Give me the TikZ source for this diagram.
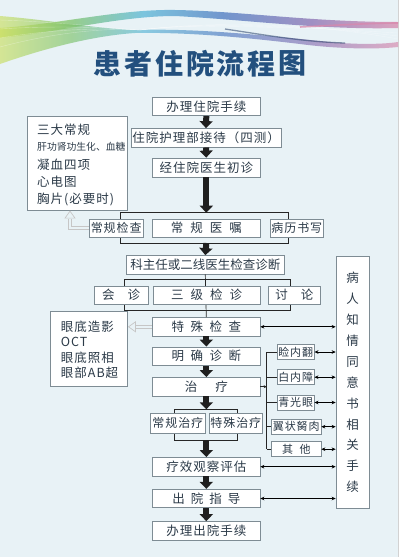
\documentclass[tikz,border=0pt]{standalone}
\usepackage{fontspec}
\newfontfamily\cjk{Noto Sans CJK SC}
\newfontfamily\cjkls[LetterSpace=8]{Noto Sans CJK SC}
\usetikzlibrary{arrows.meta}
\definecolor{bg}{HTML}{E8F2F6}
\definecolor{txt}{HTML}{2B3A48}
\definecolor{bord}{HTML}{7E8C94}
\definecolor{titleblue}{HTML}{23507E}
\definecolor{rA}{HTML}{CADF62}
\definecolor{rB}{HTML}{7CC26A}
\definecolor{rC}{HTML}{58B6D6}
\definecolor{rD}{HTML}{4A78C0}
\definecolor{rE}{HTML}{8870B2}
\definecolor{rF}{HTML}{D888AC}
\pgfdeclarehorizontalshading{ribbon}{100bp}{color(0bp)=(rA); color(25bp)=(rA); color(34bp)=(rB); color(43bp)=(rC); color(53bp)=(rD); color(64bp)=(rE); color(75bp)=(rF); color(100bp)=(rF)}
\newcommand{\myboxfont}{\cjkls\fontsize{12.5}{14}\selectfont}
\newcommand{\mysmallfont}{\cjkls\fontsize{11}{13}\selectfont}
\newcommand{\kgap}[1]{\hspace{#1pt}}
\tikzset{
  box/.style={draw=bord, fill=white, line width=0.8pt, inner sep=0pt, text=txt,
    font=\myboxfont, minimum width=107.3pt, minimum height=18.5pt},
  sbox/.style={box, font=\mysmallfont, minimum height=15pt},
  ltxt/.style={anchor=west, inner sep=0pt, text=txt, font=\myboxfont},
  vch/.style={inner sep=0pt, text=txt, font=\cjk\fontsize{12.5}{14}\selectfont},
  ttl/.style={inner sep=0pt, text=titleblue, font=\cjk\bfseries\fontsize{28}{30}\selectfont},
  big/.style={line width=6pt, draw=black!88, -{Triangle[width=13pt,length=7pt]}},
  bline/.style={draw=black!85, line width=0.8pt},
  thinl/.style={draw=black!85, line width=0.7pt},
  bi/.style={draw=black, line width=0.7pt, {Stealth[length=4pt,width=3.6pt]}-{Stealth[length=4pt,width=3.6pt]}},
  hollow/.style={draw=gray!45, line width=0.7pt, double=bg, double distance=2.4pt},
  hhead/.style={draw=gray!45, line width=0.7pt, fill=bg},
}
\begin{document}
\begin{tikzpicture}[x=1pt,y=-1pt]
\useasboundingbox (0,0) rectangle (403,557);
\fill[bg] (0,0) rectangle (403,557);
\fill[white] (398,0) rectangle (403,557);
\draw[gray!35, line width=0.6pt] (398,0) -- (398,557);
% ribbon
\shade[shading=ribbon, opacity=.75] (0,28) .. controls (60,24) and (120,9) .. (175,10) .. controls (240,11) and (310,22) .. (398,22) -- (398,28) .. controls (320,30) and (250,20) .. (175,16) .. controls (120,16) and (60,32) .. (0,38) -- cycle;
\shade[shading=ribbon, opacity=.65] (0,16) .. controls (50,20) and (90,28) .. (135,30) .. controls (200,28) and (270,36) .. (330,42) .. controls (360,45) and (385,44) .. (398,42) -- (398,47) .. controls (370,50) and (330,48) .. (300,44) .. controls (250,38) and (190,32) .. (135,33) .. controls (90,36) and (40,50) .. (0,64) -- cycle;
\foreach \d in {0,3,6,9}
  \draw[white, opacity=.35, line width=0.4pt] (0,20+\d*3) .. controls (60,22+\d) and (110,28) .. (140,30) .. controls (200,22) and (300,30-\d) .. (398,30+\d);
\draw[rD!55!black, opacity=.55, line width=1.3pt] (225,29) .. controls (265,35) and (305,42) .. (345,43);
\draw[rF, opacity=.75, line width=1.6pt] (300,27) .. controls (340,25) and (375,23) .. (398,23);
% title
\foreach \c [count=\i from 0] in {患,者,住,院,流,程,图}
  \node[ttl] (t\i) at (200+30.7*\i-92.1, 63.5) {\c};
% brackets
\draw[bline] (120.7,212.7) rectangle (288,243);
\draw[bline] (124,279.3) rectangle (290.7,310);
\draw[bline] (174,409.3) rectangle (237.7,440);
\coordinate (b1t) at (206.3,212.7);
\coordinate (b1b) at (206.3,243);
\coordinate (b3t) at (206.3,409.3);
\coordinate (b3b) at (206.3,440);
% main column
\node[box] (n1) at (206.3,106.3) {办理住院手续};
\node[box, minimum width=150pt] (n2) at (206,137.8) {住院护理部接待（四测）};
\node[box, minimum height=19pt] (n3) at (206.3,167.5) {经住院医生初诊};
\node[box, minimum width=54.3pt, minimum height=18pt, font=\cjkls\fontsize{12}{14}\selectfont] (c1) at (116.2,228) {常规检查};
\node[box, minimum height=18pt] (c2) at (206.3,228) {常\kgap7规\kgap7医\kgap7嘱};
\node[box, minimum width=52.3pt, minimum height=18pt, font=\cjkls\fontsize{12}{14}\selectfont] (c3) at (296.8,228) {病历书写};
\node[box, minimum width=157.3pt, font=\cjk\fontsize{12.5}{14}\selectfont] (d) at (205.3,264.8) {科主任或二线医生检查诊断};
\node[box] (f) at (206.3,326.8) {特\kgap{6.5}殊\kgap{6.5}检\kgap{6.5}查};
\draw[thinl] (d.south) -- (f.north);
\node[box, minimum width=54.3pt, minimum height=18pt] (e1) at (121.2,295) {会\kgap{13}诊};
\node[box, minimum width=107pt, minimum height=18pt] (e2) at (206.5,295) {三\kgap7级\kgap7检\kgap7诊};
\node[box, minimum width=52.7pt, minimum height=18pt] (e3) at (294.3,295) {讨\kgap{13}论};
\node[box] (g) at (206.3,356.2) {明\kgap{6.5}确\kgap{6.5}诊\kgap{6.5}断};
\node[box] (h) at (206.3,386.7) {治\kgap{18}疗};
\node[box, minimum width=54.3pt, minimum height=20pt, font=\cjkls\fontsize{12}{14}\selectfont] (i1) at (177.8,423) {常规治疗};
\node[box, minimum width=53.7pt, minimum height=20pt, font=\cjkls\fontsize{12}{14}\selectfont] (i2) at (235.8,423) {特殊治疗};
\node[box] (j) at (206.3,466.7) {疗效观察评估};
\node[box] (k) at (206.3,498.5) {出\kgap6院\kgap6指\kgap6导};
\node[box] (l) at (206.3,530.8) {办理出院手续};
% thick arrows
\draw[big] (n1.south) -- (n2.north);
\draw[big] (n2.south) -- (n3.north);
\draw[big] (n3.south) -- (b1t);
\draw[big] (b1b) -- (d.north);
\draw[big] (f.south) -- (g.north);
\draw[big] (g.south) -- (h.north);
\draw[big] (h.south) -- (b3t);
\draw[big] (b3b) -- (j.north);
\draw[big] (j.south) -- (k.north);
\draw[big] (k.south) -- (l.north);
% left list 1
\node[box, minimum width=100.7pt, minimum height=94pt] (L1) at (77.3,163.7) {};
\node[ltxt] (l1a) at (37,130) {三大常规};
\node[ltxt, font=\cjk\fontsize{9.8}{12}\selectfont] (l1b) at (37,146.7) {肝功肾功生化、血糖};
\node[ltxt] (l1c) at (37,164.5) {凝血四项};
\node[ltxt] (l1d) at (37,181.5) {心电图};
\node[ltxt] (l1e) at (37,199) {胸片(必要时)};
% left list 2
\node[box, minimum width=77.3pt, minimum height=74.3pt] (L2) at (88.7,348.8) {};
\node[ltxt] (l2a) at (60.7,326.7) {眼底造影};
\node[ltxt] (l2b) at (60.7,341.7) {OCT};
\node[ltxt] (l2c) at (60.7,357.3) {眼底照相};
\node[ltxt] (l2d) at (60.7,373) {眼部AB超};
% hollow arrows
\coordinate (ha1) at (70,228);
\coordinate (ha2) at (70,218.5);
\draw[hollow] (c1.west) -- (ha1) -- (ha2);
\draw[hhead] (L1.south -| ha1) -- ++(5,7) -- ++(-10,0) -- cycle;
\coordinate (hb1) at (134.5,326.8);
\draw[hollow] (f.west) -- (hb1);
\draw[hhead] (L2.east |- f.west) ++(0.8,0) -- ++(7,-5) -- ++(0,10) -- cycle;
% consent box
\node[box, minimum width=33.3pt, minimum height=252.3pt] (cons) at (352.7,382.2) {};
\foreach \c [count=\i from 0] in {病,人,知,情,同,意,书,相,关,手,续}
  \node[vch] (v\i) at (352.7, 278+20.9*\i) {\c};
% eye sub-boxes
\node[sbox, minimum width=36.7pt] (m1) at (295.7,352) {睑内翻};
\node[sbox, minimum width=36.7pt] (m2) at (295.7,377.2) {白内障};
\node[sbox, minimum width=36.7pt] (m3) at (295.7,402.5) {青光眼};
\node[sbox, minimum width=49.3pt] (m4) at (296.3,426.7) {翼状胬肉};
\node[sbox, minimum width=49.3pt] (m5) at (296.3,449.2) {其\kgap{6.5}他};
% tree
\coordinate (tr1) at (266.7,352);
\coordinate (tr5) at (266.7,449.2);
\draw[thinl] (tr1) -- (tr5);
\draw[thinl, -{Stealth[length=3pt,width=3pt]}] (h.east) -- (h.east -| tr1);
\foreach \m in {m1,m2,m3,m4,m5}
  \draw[thinl] (\m.west -| tr1) -- (\m.west);
% bidirectional arrows
\foreach \m in {f,m1,m2,m3,m4,m5,j,k}
  \draw[bi] (\m.east) -- (\m.east -| cons.west);
\end{tikzpicture}
\end{document}
